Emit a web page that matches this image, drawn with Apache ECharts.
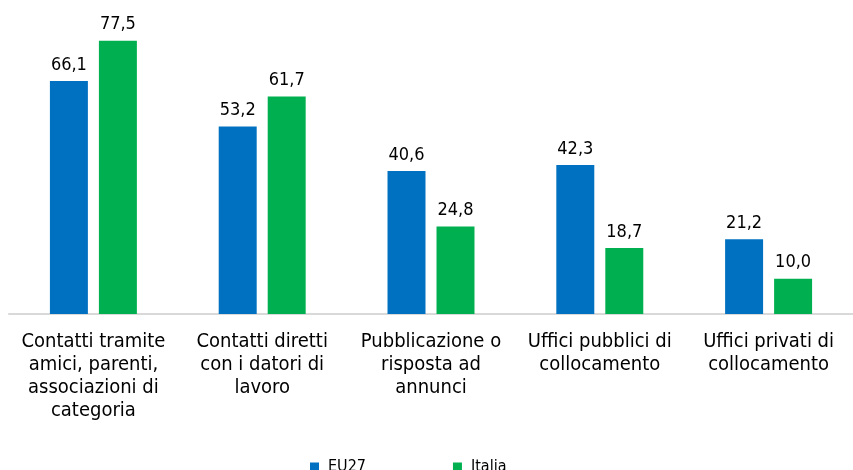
<!DOCTYPE html>
<html>
<head>
<meta charset="utf-8">
<script src="https://cdn.jsdelivr.net/npm/echarts@6/dist/echarts.min.js"></script>
<style>
  html, body { margin: 0; padding: 0; background: #fff; }
  #chart { width: 853px; height: 470px; }
</style>
</head>
<body>
<div id="chart"></div>
<script>
const categories = [
  "Contatti tramite\namici, parenti,\nassociazioni di\ncategoria",
  "Contatti diretti\ncon i datori di\nlavoro",
  "Pubblicazione o\nrisposta ad\nannunci",
  "Uffici pubblici di\ncollocamento",
  "Uffici privati di\ncollocamento"
];
const eu27 = [66.1, 53.2, 40.6, 42.3, 21.2];
const italia = [77.5, 61.7, 24.8, 18.7, 10.0];

const font = "'DejaVu Sans Condensed', 'DejaVu Sans'";
const fmt = p => p.value.toFixed(1).replace(".", ",");
const valueLabel = {
  show: true, position: "top", distance: 7, formatter: fmt,
  fontFamily: font, fontSize: 18, color: "#000"
};

const chart = echarts.init(document.getElementById("chart"));
chart.setOption({
  animation: false,
  textStyle: { fontFamily: font },
  grid: { left: 9, right: 0, top: 32, bottom: 156 },
  legend: {
    bottom: -5,
    left: 310,
    padding: 0,
    itemWidth: 9,
    itemHeight: 9,
    itemGap: 87,
    icon: "rect",
    textStyle: { fontFamily: font, fontSize: 16, color: "#000", padding: [0, 0, 0, 4] },
    data: ["EU27", "Italia"]
  },
  xAxis: {
    type: "category",
    data: categories,
    axisLine: { lineStyle: { color: "#d9d9d9", width: 2 } },
    axisTick: { show: false },
    axisLabel: {
      interval: 0,
      margin: 16,
      fontFamily: font,
      fontSize: 20,
      lineHeight: 23,
      color: "#000"
    }
  },
  yAxis: {
    type: "value",
    min: 0,
    max: 80,
    show: false,
    splitLine: { show: false }
  },
  series: [
    {
      name: "EU27",
      type: "bar",
      data: eu27,
      barWidth: "22.5%",
      barGap: "29%",
      itemStyle: { color: "#0070C0" },
      label: valueLabel
    },
    {
      name: "Italia",
      type: "bar",
      data: italia,
      barWidth: "22.5%",
      itemStyle: { color: "#00B050" },
      label: valueLabel
    }
  ]
});
</script>
</body>
</html>
